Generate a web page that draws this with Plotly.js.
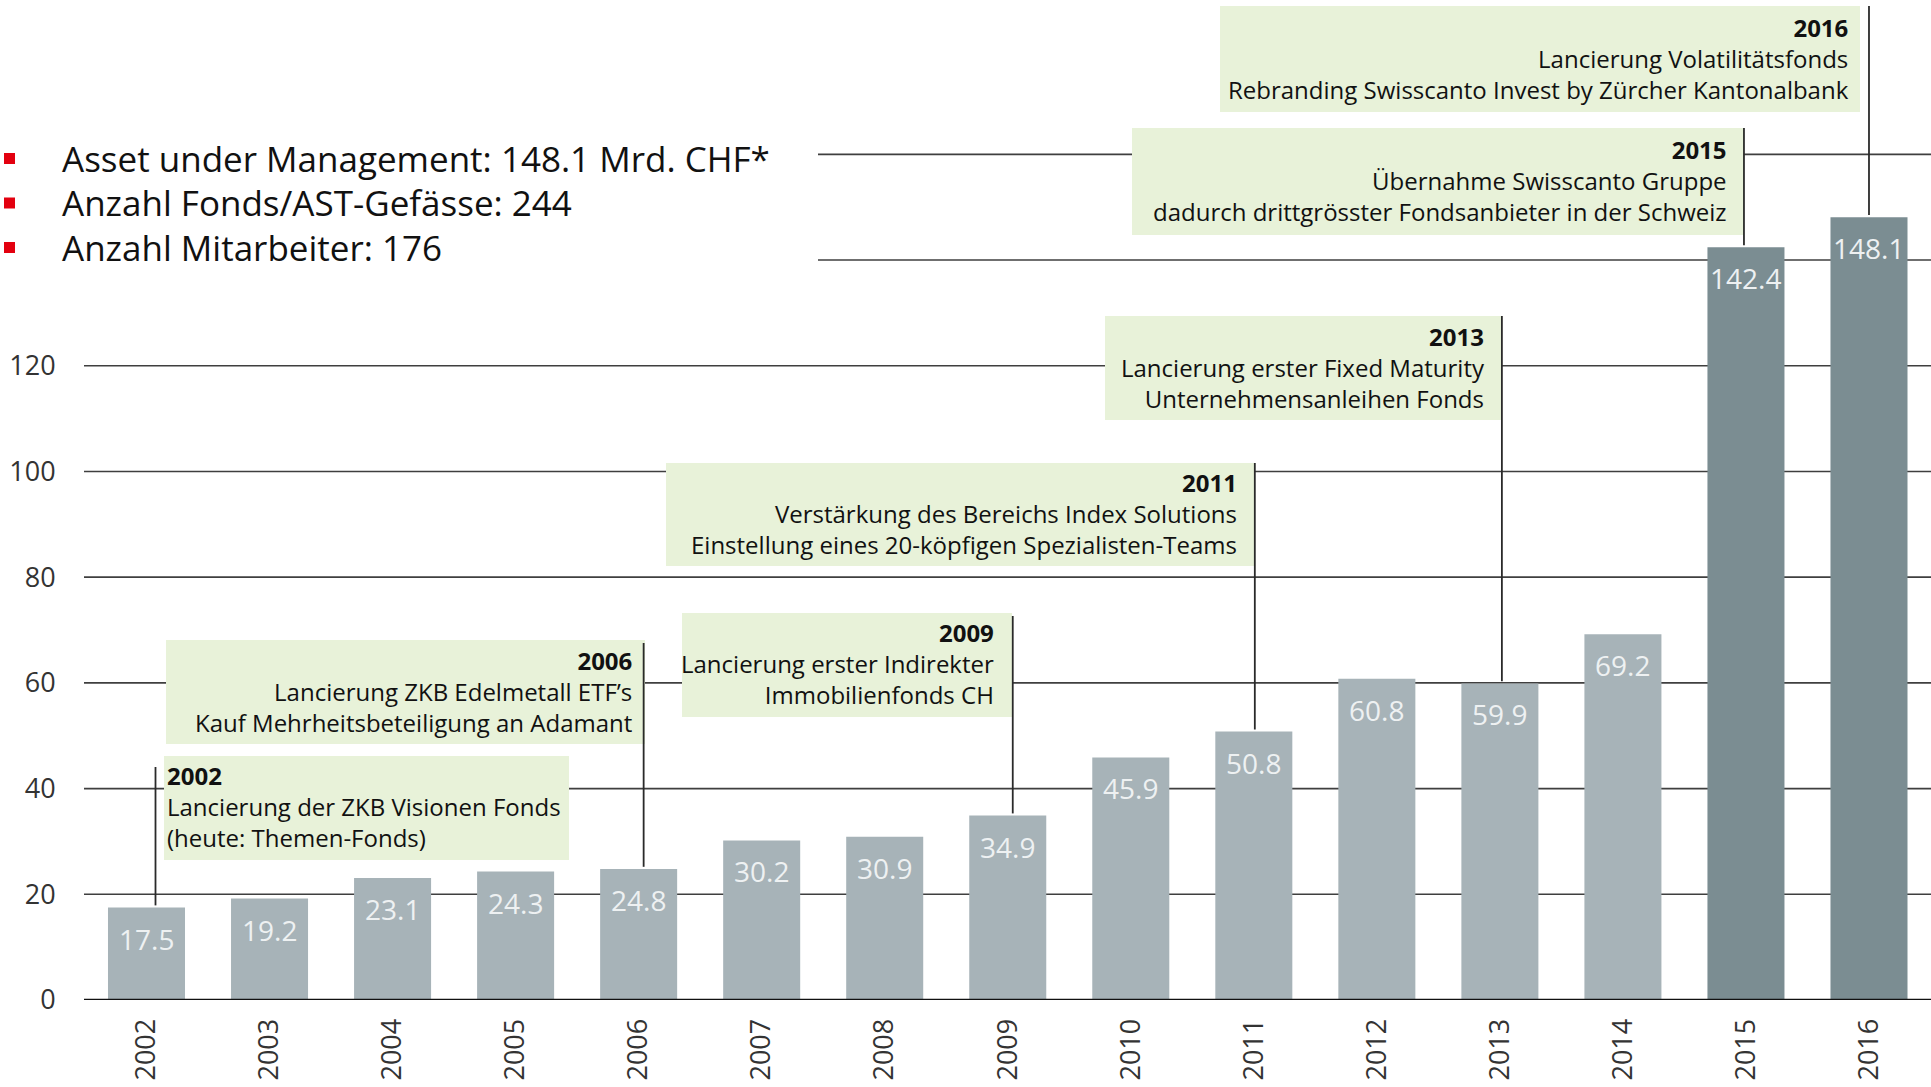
<!DOCTYPE html>
<html><head><meta charset="utf-8">
<script src="https://cdn.plot.ly/plotly-3.0.1.min.js"></script>
<style>html,body{margin:0;padding:0;background:#fff;overflow:hidden}</style>
</head><body><div id="chart" style="width:1931px;height:1087px"></div>
<script>
// ---------- data ----------
const years = ['2002','2003','2004','2005','2006','2007','2008','2009','2010','2011','2012','2013','2014','2015','2016'];
const aum = [17.5,19.2,23.1,24.3,24.8,30.2,30.9,34.9,45.9,50.8,60.8,59.9,69.2,142.4,148.1];
const yTicks = [0,20,40,60,80,100,120];
const upperGrid = [140,160];
const keyFacts = [
  'Asset under Management: 148.1 Mrd. CHF*',
  'Anzahl Fonds/AST-Gefässe: 244',
  'Anzahl Mitarbeiter: 176'
];
const milestoneYears = ['2002','2006','2009','2011','2013','2015','2016'];
const milestoneText = [
  ['Lancierung der ZKB Visionen Fonds','(heute: Themen-Fonds)'],
  ['Lancierung ZKB Edelmetall ETF’s','Kauf Mehrheitsbeteiligung an Adamant'],
  ['Lancierung erster Indirekter','Immobilienfonds CH'],
  ['Verstärkung des Bereichs Index Solutions','Einstellung eines 20-köpfigen Spezialisten-Teams'],
  ['Lancierung erster Fixed Maturity','Unternehmensanleihen Fonds'],
  ['Übernahme Swisscanto Gruppe','dadurch drittgrösster Fondsanbieter in der Schweiz'],
  ['Lancierung Volatilitätsfonds','Rebranding Swisscanto Invest by Zürcher Kantonalbank']
];

// ---------- geometry / style ----------
const W = 1931, H = 1087, ML = 84, MB = 87;
const plotW = W - ML, plotH = H - MB;
const yMax = 189.2;
const catW = plotW / 15.012;
const px = x => (x - ML) / plotW;          // pixel -> paper x
const py = y => (plotH - y) / plotH;       // pixel -> paper y
const pv = y => (plotH - y) / plotH * yMax; // pixel -> value
const FONT = 'Open Sans, Noto Sans, sans-serif';
const lightBar = '#a7b3b8', darkBar = '#7b8d92';
const boxFill = '#e8f2d9', gridCol = '#3f3f3f';

// box layout per milestone: [x0, x1, y0, y1, align, inset, connectorTop, connectorDx]
const boxGeom = [
  [164, 569, 756, 860, 'left', 2, 767, 9],
  [166, 645, 640, 744, 'right', 12, 643, 5],
  [682, 1012, 613, 717, 'right', 17, 616, 5],
  [666, 1255, 463, 566, 'right', 17, 463, 1],
  [1105, 1502, 316, 420, 'right', 16, 316, 2],
  [1132, 1744, 128, 235, 'right', 16, 128, -2],
  [1220, 1860, 6, 112, 'right', 10, 6, 0]
];

const shapes = [];
const annotations = [];

// grid lines
yTicks.filter(v => v > 0).forEach(v => shapes.push({type:'line', layer:'below', xref:'paper', yref:'y', x0:0, x1:1, y0:v, y1:v, line:{color:gridCol, width:1.6}}));
upperGrid.forEach(v => shapes.push({type:'line', layer:'below', xref:'paper', yref:'y', x0:px(818), x1:1, y0:v, y1:v, line:{color:gridCol, width:1.6}}));

// milestone boxes, connectors, text
milestoneYears.forEach((yr, k) => {
  const g = boxGeom[k];
  const idx = years.indexOf(yr);
  shapes.push({type:'rect', layer:'below', xref:'paper', yref:'paper', x0:px(g[0]), x1:px(g[1]), y0:py(g[3]), y1:py(g[2]), fillcolor:boxFill, line:{width:0}});
  shapes.push({type:'line', layer:'above', xref:'x', yref:'y', x0:idx + g[7]/catW, x1:idx + g[7]/catW, y0:aum[idx] + 0.4, y1:pv(g[6]), line:{color:'#2a2a2a', width:1.8}});
  const left = g[4] === 'left';
  annotations.push({
    xref:'paper', yref:'paper',
    x: left ? px(g[0] + g[5]) : px(g[1] - g[5]),
    y: py((g[2] + g[3]) / 2 - 1),
    xanchor: left ? 'left' : 'right', yanchor:'middle', align: g[4],
    showarrow:false, borderpad:0,
    text: '<b>' + yr + '</b><br>' + milestoneText[k].join('<br>'),
    font:{family:FONT, size:24, color:'#111'}
  });
});

// value labels inside bars
years.forEach((yr, i) => annotations.push({
  xref:'x', yref:'y', x:i, y:aum[i], yshift:-31, xanchor:'center', yanchor:'middle',
  showarrow:false, text:aum[i].toFixed(1), font:{family:FONT, size:28, color:'#eef1f2'}
}));

// key facts with red bullets
keyFacts.forEach((t, i) => {
  const cy = 158.5 + 44.5 * i;
  shapes.push({type:'rect', xref:'paper', yref:'paper', x0:px(4), x1:px(15), y0:py(cy + 5.5), y1:py(cy - 5.5), fillcolor:'#e3000f', line:{width:0}});
  annotations.push({xref:'paper', yref:'paper', x:px(60), y:py(cy), xanchor:'left', yanchor:'middle', showarrow:false, text:t, font:{family:FONT, size:35, color:'#111'}});
});

// baseline
shapes.push({type:'line', layer:'above', xref:'paper', yref:'y', x0:0, x1:1, y0:0, y1:0, line:{color:'#111', width:2.4}});

const trace = {
  type:'bar', x:years, y:aum,
  marker:{color: years.map(y => (+y >= 2015 ? darkBar : lightBar)), line:{width:0}},
  hoverinfo:'x+y'
};

const layout = {
  width:W, height:H, autosize:false,
  margin:{l:ML, r:0, t:0, b:MB, pad:0},
  paper_bgcolor:'#fff', plot_bgcolor:'rgba(0,0,0,0)',
  font:{family:FONT, color:'#333'},
  showlegend:false, bargap:0.374,
  xaxis:{type:'category', range:[-0.508, 14.504], showgrid:false, zeroline:false, showline:false,
         tickangle:-90, ticks:'outside', ticklen:7, tickcolor:'rgba(0,0,0,0)',
         tickfont:{family:FONT, size:27, color:'#333'}, fixedrange:true},
  yaxis:{range:[0, yMax], tickvals:yTicks, showgrid:false, zeroline:false, showline:false,
         ticks:'outside', ticklen:22, tickcolor:'rgba(0,0,0,0)',
         tickfont:{family:FONT, size:27, color:'#333'}, fixedrange:true},
  shapes, annotations
};

Plotly.newPlot('chart', [trace], layout, {displayModeBar:false, staticPlot:true});
</script>
</body></html>
